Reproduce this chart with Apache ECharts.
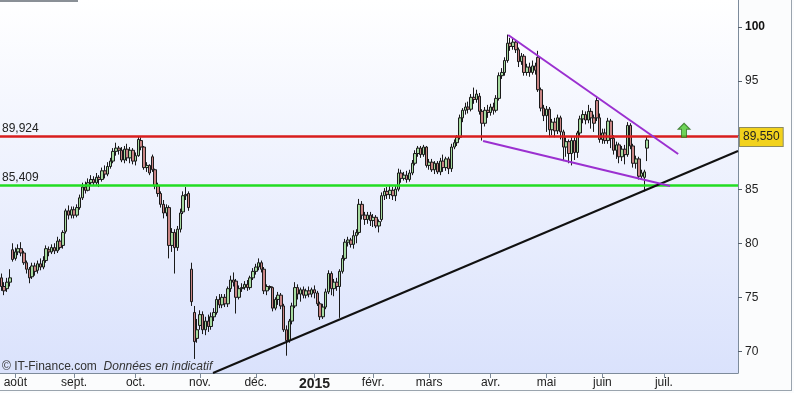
<!DOCTYPE html>
<html><head><meta charset="utf-8">
<script src="https://cdn.jsdelivr.net/npm/echarts@6/dist/echarts.min.js"></script>
<style>html,body{margin:0;padding:0;background:#fbfcfd;}#c{width:794px;height:393px;}</style>
</head><body><div id="c"></div>
<script>
// ---- data ----
const firstDay = [2014, 6, 25]; // 25 juil. 2014
const holidays = ['2014-12-25','2014-12-26','2015-01-01','2015-04-03','2015-04-06','2015-05-01'];
const totalSlots = 264;
const lastLabelMonth = '2015-07';
const monthNames = ['janv.','févr.','mars','avr.','mai','juin','juil.','août','sept.','oct.','nov.','déc.'];
const yTicks = [70, 75, 80, 85, 90, 95, 100];
// [open, close, low, high]
const candles = [
[76.8,76.0,75.6,77.2],[76.0,75.6,75.2,76.4],[75.8,76.4,75.5,76.8],[76.4,76.8,76.0,77.6],[79.4,78.5,78.3,80.0],
[78.6,79.2,78.4,79.6],[79.2,79.5,78.9,79.9],[79.5,79.1,78.8,80.1],[79.1,78.2,78.0,79.3],[78.2,77.6,77.2,78.4],
[77.6,76.8,76.3,77.8],[76.9,77.9,76.7,78.2],[77.9,77.4,77.0,78.2],[77.5,78.1,77.2,78.4],[78.1,77.8,77.5,78.6],
[77.8,78.4,77.6,78.8],[78.4,79.5,78.2,79.8],[79.4,79.2,78.8,79.7],[79.2,79.6,79.0,79.9],[79.6,79.3,79.0,80.0],
[79.3,80.2,79.1,80.6],[80.2,79.6,79.4,80.4],[79.8,81.0,79.5,81.2],[81.1,83.0,80.9,83.2],[83.0,82.6,82.2,83.5],
[82.6,83.1,82.3,83.4],[83.1,82.6,82.3,83.4],[82.6,83.3,82.4,83.6],[83.3,84.2,83.1,84.5],[84.2,85.2,84.0,85.6],
[85.2,84.9,84.6,85.7],[84.9,85.6,84.8,86.0],[85.6,85.9,85.3,86.3],[85.9,85.6,85.3,86.2],[85.6,86.1,85.4,86.5],
[86.1,85.9,85.2,86.3],[85.9,86.7,85.7,87.0],[86.7,86.4,86.0,87.2],[86.4,87.1,86.2,87.5],[87.1,87.6,86.9,87.9],
[87.6,88.5,87.4,88.8],[88.5,88.8,88.1,89.3],[88.8,88.6,88.2,89.0],[88.6,87.7,87.5,88.9],[87.7,88.7,87.4,89.0],
[88.7,87.9,87.6,89.2],[87.9,88.6,87.4,88.9],[88.6,87.6,87.3,88.8],[87.6,88.1,87.2,88.4],[88.1,89.6,88.0,89.9],
[89.5,88.9,88.6,89.8],[88.9,87.0,86.8,89.0],[87.0,87.2,86.6,87.5],[87.2,86.5,86.3,87.3],[88.0,86.8,86.6,88.2],
[86.8,85.3,85.0,86.9],[85.3,84.6,84.3,85.6],[84.6,83.6,83.3,84.8],[83.6,82.8,82.3,84.0],[82.8,83.3,82.5,83.6],
[83.3,79.8,78.6,83.5],[79.8,81.0,79.2,81.4],[81.0,79.6,77.2,81.3],[79.6,81.3,79.3,81.6],[81.3,82.8,81.0,83.2],
[82.9,84.4,82.7,84.8],[84.4,84.5,84.0,85.2],[84.6,83.3,83.0,84.8],[77.6,74.6,74.2,78.2],[73.6,70.9,69.3,74.2],
[71.2,72.0,70.8,73.0],[72.4,73.4,72.0,73.8],[73.4,72.0,71.6,73.7],[72.0,72.8,71.5,73.2],[72.8,72.3,71.8,73.4],
[72.3,73.2,72.0,73.6],[73.2,73.6,72.8,74.0],[73.6,74.8,73.4,75.1],[74.8,74.3,74.0,75.3],[74.3,75.0,74.0,75.3],
[75.0,74.4,74.1,75.3],[74.4,75.8,74.1,76.0],[75.8,76.6,75.5,77.0],[76.6,76.4,76.0,77.3],[76.5,75.0,73.5,76.7],
[75.0,75.8,74.8,76.1],[75.8,75.9,75.5,76.3],[75.9,76.2,75.7,76.5],[76.2,75.9,75.6,76.6],[75.9,76.8,75.7,77.0],
[76.8,77.4,76.6,77.7],[77.4,77.8,77.1,78.1],[77.8,78.2,77.5,78.6],[78.2,77.6,77.3,78.4],[77.6,75.6,75.3,77.8],
[75.6,76.0,75.2,76.2],[76.0,75.9,75.7,76.1],[75.9,74.0,73.7,76.0],[74.0,74.8,73.8,75.0],[74.8,75.2,74.3,75.5],
[75.2,74.2,73.9,75.4],[74.2,72.0,71.8,74.4],[72.0,71.0,69.6,72.4],[71.0,72.8,70.8,73.0],[72.8,74.2,72.5,74.5],
[74.2,75.9,74.0,76.4],[75.9,75.3,74.8,76.2],[75.3,75.7,74.6,75.9],[75.7,75.2,74.9,76.0],[75.2,75.6,74.9,75.8],
[75.6,75.3,75.0,76.0],[75.3,75.7,75.0,75.9],[75.7,75.4,74.9,76.1],[75.4,74.4,74.2,75.6],[74.4,73.2,72.9,74.6],
[73.2,74.1,73.0,74.4],[74.1,75.5,73.9,75.8],[75.5,77.2,75.3,77.5],[77.2,75.8,75.2,77.4],[75.8,76.4,75.1,76.7],
[76.4,76.0,75.6,76.8],[76.0,77.4,73.1,77.6],[77.4,78.6,77.2,78.9],[78.6,80.1,78.4,80.4],[80.1,80.3,79.7,80.6],
[80.3,79.9,79.6,80.5],[79.9,80.7,79.5,81.2],[80.7,81.0,80.0,81.3],[81.0,83.6,80.8,84.1],[83.6,82.6,82.2,83.9],
[82.6,82.2,81.7,82.9],[82.2,82.6,81.8,82.9],[82.6,82.1,81.6,82.9],[82.1,82.4,81.5,82.7],[82.4,81.6,81.4,82.6],
[81.6,82.0,81.0,82.2],[82.2,84.4,82.0,84.7],[84.4,84.8,84.0,85.1],[84.8,84.5,84.1,85.2],[84.5,84.9,84.1,85.4],
[84.9,84.4,84.0,85.2],[84.4,85.0,83.9,85.3],[85.0,86.5,84.8,86.9],[86.5,86.0,85.6,86.8],[86.0,86.3,85.8,86.6],
[86.3,85.9,85.6,86.7],[85.9,86.5,85.7,86.8],[86.5,87.4,86.3,87.7],[87.4,88.3,87.2,88.6],[88.3,88.8,88.0,89.0],
[88.8,88.2,87.9,89.0],[88.2,88.9,88.0,89.1],[88.9,87.2,87.0,89.0],[87.2,87.5,86.8,87.8],[87.5,86.8,86.6,87.8],
[86.8,87.4,86.4,87.6],[87.4,86.6,86.4,87.6],[86.6,87.6,86.3,87.9],[87.6,87.0,86.6,88.2],[87.0,87.8,86.7,88.0],
[87.8,86.9,86.4,88.0],[86.9,88.9,86.6,89.2],[88.9,89.3,88.7,89.6],[89.3,89.8,89.0,90.0],[89.8,91.6,89.6,91.9],
[91.6,92.3,91.2,92.5],[92.3,92.6,91.9,93.0],[92.6,92.4,92.0,93.1],[92.4,93.5,92.2,93.8],[93.5,93.3,92.9,94.4],
[93.3,93.8,93.0,94.2],[93.6,92.2,91.9,93.9],[92.2,91.1,89.5,92.4],[91.1,92.3,90.8,92.6],[92.3,92.1,91.6,92.8],
[92.1,92.6,91.8,92.9],[92.6,92.3,91.9,93.0],[92.3,93.4,92.1,93.7],[93.4,95.5,93.2,95.8],[95.5,95.8,95.2,96.2],
[95.8,96.9,95.5,97.2],[96.9,98.5,96.7,99.3],[98.5,98.2,97.8,99.0],[98.2,98.6,97.9,98.9],[98.6,97.9,97.6,98.8],
[97.9,96.8,96.3,98.1],[96.8,97.3,96.5,97.6],[97.3,95.8,95.5,97.5],[95.8,96.3,95.5,96.6],[96.3,95.8,95.4,96.7],
[95.8,96.4,95.6,96.9],[96.4,96.0,95.6,96.7],[97.2,94.2,94.0,97.8],[94.2,92.5,92.2,94.4],[92.5,91.8,91.3,92.8],
[91.8,92.4,90.3,92.7],[92.4,90.5,89.8,92.6],[90.5,91.2,90.0,91.5],[91.2,90.4,89.8,91.6],[90.4,91.6,90.1,91.9],
[91.6,90.3,89.6,91.8],[90.3,88.9,87.6,90.5],[88.9,89.4,88.0,89.8],[89.4,88.3,87.4,89.6],[88.3,89.5,87.2,89.8],
[89.5,88.4,87.7,89.8],[88.4,90.2,87.9,90.4],[90.2,91.5,89.9,91.8],[91.5,91.9,91.1,92.3],[91.9,91.4,91.0,92.2],
[91.4,92.2,91.1,92.8],[92.2,91.6,90.6,92.5],[91.6,91.1,90.3,91.9],[93.2,91.6,91.3,93.5],[91.6,89.6,89.3,92.0],
[89.6,90.2,89.2,90.6],[90.2,89.5,89.2,90.6],[89.5,91.3,89.2,91.6],[91.3,89.7,88.8,91.5],[89.7,88.6,88.2,90.0],
[88.6,89.1,87.8,89.4],[89.1,88.0,87.4,89.3],[88.0,88.7,87.6,89.0],[88.7,88.2,87.3,89.1],[88.2,90.9,88.0,91.2],
[90.9,89.0,88.7,91.1],[89.0,87.4,87.0,89.2],[87.4,87.8,86.9,88.1],[87.8,86.2,85.9,88.0],[86.2,86.5,85.9,86.8],
[86.1,86.6,84.8,86.8],[88.8,89.55,87.6,89.9]
];
const resistance = 89.924;
const support = 85.409;
const lastPrice = 89.55;
// trend lines: [slot index, price]
const blackTrend = [[75.7, 68.0], [263.5, 88.53]];
const purpleUpper = [[181.3, 99.26], [242.1, 88.26]];
const purpleLower = [[172.3, 89.46], [239.2, 85.30]];
const arrowPoint = [[244.2, 90.45]];

// ---- build ----
const pad = n => String(n).padStart(2, '0');
const dates = [];
let t = Date.UTC(firstDay[0], firstDay[1], firstDay[2]);
while (dates.length < totalSlots) {
  const d = new Date(t);
  const s = d.getUTCFullYear() + '-' + pad(d.getUTCMonth() + 1) + '-' + pad(d.getUTCDate());
  const dow = d.getUTCDay();
  if (dow !== 0 && dow !== 6 && holidays.indexOf(s) < 0) dates.push(s);
  t += 86400000;
}
const isMonthStart = dates.map((s, i) => i > 0 && s.slice(0, 7) <= lastLabelMonth && s.slice(5, 7) !== dates[i - 1].slice(5, 7));
const fr = v => v.toFixed(3).replace('.', ',');

const chart = echarts.init(document.getElementById('c'), null, {renderer: 'canvas'});
chart.setOption({
  animation: false,
  backgroundColor: '#fbfcfd',
  textStyle: {fontFamily: 'Liberation Sans, Arial, sans-serif'},
  grid: {
    left: 0, right: 56, top: 0, bottom: 20, show: true, borderWidth: 0,
    backgroundColor: {type: 'linear', x: 0, y: 0, x2: 0, y2: 1,
      colorStops: [{offset: 0, color: '#ffffff'}, {offset: 1, color: '#dae2fc'}]}
  },
  xAxis: [{
    type: 'category', data: dates, boundaryGap: true,
    axisLine: {show: true, onZero: false, lineStyle: {color: '#7d8b9b', width: 1}},
    axisTick: {show: true, alignWithLabel: true, length: 5, lineStyle: {color: '#7d8b9b'},
      interval: (i) => isMonthStart[i]},
    axisLabel: {
      interval: (i) => isMonthStart[i], margin: 4, color: '#222', fontSize: 12,
      formatter: v => { const m = +v.slice(5, 7); return m === 1 ? '{y|' + v.slice(0, 4) + '}' : monthNames[m - 1]; },
      rich: {y: {fontWeight: 'bold', fontSize: 14, color: '#222'}}
    },
    splitLine: {show: false}
  }, {
    type: 'value', min: -0.5, max: totalSlots - 0.5, show: false,
    axisLine: {show: false, onZero: false}, axisTick: {show: false}, axisLabel: {show: false}, splitLine: {show: false}
  }],
  yAxis: {
    type: 'value', position: 'right', min: 68, max: 102.5, scale: true,
    splitLine: {show: false},
    axisLine: {show: true, onZero: false, lineStyle: {color: '#7d8b9b', width: 1}},
    axisTick: {show: true, inside: false, length: 4, customValues: yTicks, lineStyle: {color: '#55606c', width: 1}},
    axisLabel: {customValues: yTicks, margin: 7, color: '#222', fontSize: 12,
      formatter: v => v === 100 ? '{b|100}' : String(v),
      rich: {b: {fontWeight: 'bold', fontSize: 12, color: '#111'}}}
  },
  series: [{
    type: 'candlestick', data: candles, xAxisIndex: 0, barWidth: 3,
    itemStyle: {color: '#a6dba0', color0: '#c98585', borderColor: '#1a1a1a', borderColor0: '#1a1a1a', borderWidth: 1},
    markLine: {
      silent: true, symbol: 'none', animation: false,
      data: [
        {yAxis: resistance, lineStyle: {color: '#d81e1e', width: 2.5, type: 'solid'},
          label: {show: true, position: 'insideStartTop', formatter: fr(resistance), color: '#222', fontSize: 12, distance: [2, 1]}},
        {yAxis: support, lineStyle: {color: '#22dd22', width: 2.5, type: 'solid'},
          label: {show: true, position: 'insideStartTop', formatter: fr(support), color: '#222', fontSize: 12, distance: [2, 1]}},
        {yAxis: lastPrice, lineStyle: {color: 'rgba(0,0,0,0)', width: 0},
          label: {show: true, position: 'end', distance: 2, offset: [0, -3], formatter: fr(lastPrice),
            color: '#222', fontSize: 12, backgroundColor: '#f2d21c', borderColor: '#8d8b5e', borderWidth: 1, padding: [3, 3, 3, 3]}}
      ]
    }
  }, {
    type: 'line', xAxisIndex: 1, data: blackTrend, symbol: 'none', silent: true, z: 5,
    lineStyle: {color: '#111', width: 2}
  }, {
    type: 'line', xAxisIndex: 1, data: purpleUpper, symbol: 'none', silent: true, z: 5,
    lineStyle: {color: '#9b30d0', width: 2}
  }, {
    type: 'line', xAxisIndex: 1, data: purpleLower, symbol: 'none', silent: true, z: 5,
    lineStyle: {color: '#9b30d0', width: 2}
  }, {
    type: 'scatter', xAxisIndex: 1, data: arrowPoint, silent: true, z: 6,
    symbol: 'path://M6,0 L12,6 L8.5,6 L8.5,14 L3.5,14 L3.5,6 L0,6 Z', symbolSize: [12, 14],
    itemStyle: {color: '#4ccc2e', borderColor: '#2d6b1e', borderWidth: 1}
  }],
  graphic: [
    {type: 'line', shape: {x1: 0, y1: 1, x2: 78, y2: 1}, style: {stroke: '#8a9096', lineWidth: 2}, silent: true},
    {type: 'line', shape: {x1: 791.5, y1: 0, x2: 791.5, y2: 391}, style: {stroke: '#9aa4ae', lineWidth: 1}, silent: true},
    {type: 'line', shape: {x1: 0, y1: 390.5, x2: 792, y2: 390.5}, style: {stroke: '#9aa4ae', lineWidth: 1}, silent: true},
    {type: 'text', left: 2, top: 361, silent: true, z: 10,
      style: {text: '{a|© IT-Finance.com  }{b|Données en indicatif}', fontSize: 12,
        rich: {a: {fontSize: 12, fill: '#333', fontFamily: 'Liberation Sans, Arial, sans-serif'},
               b: {fontSize: 12, fill: '#333', fontStyle: 'italic', fontFamily: 'Liberation Sans, Arial, sans-serif'}}}}
  ]
});
</script></body></html>
